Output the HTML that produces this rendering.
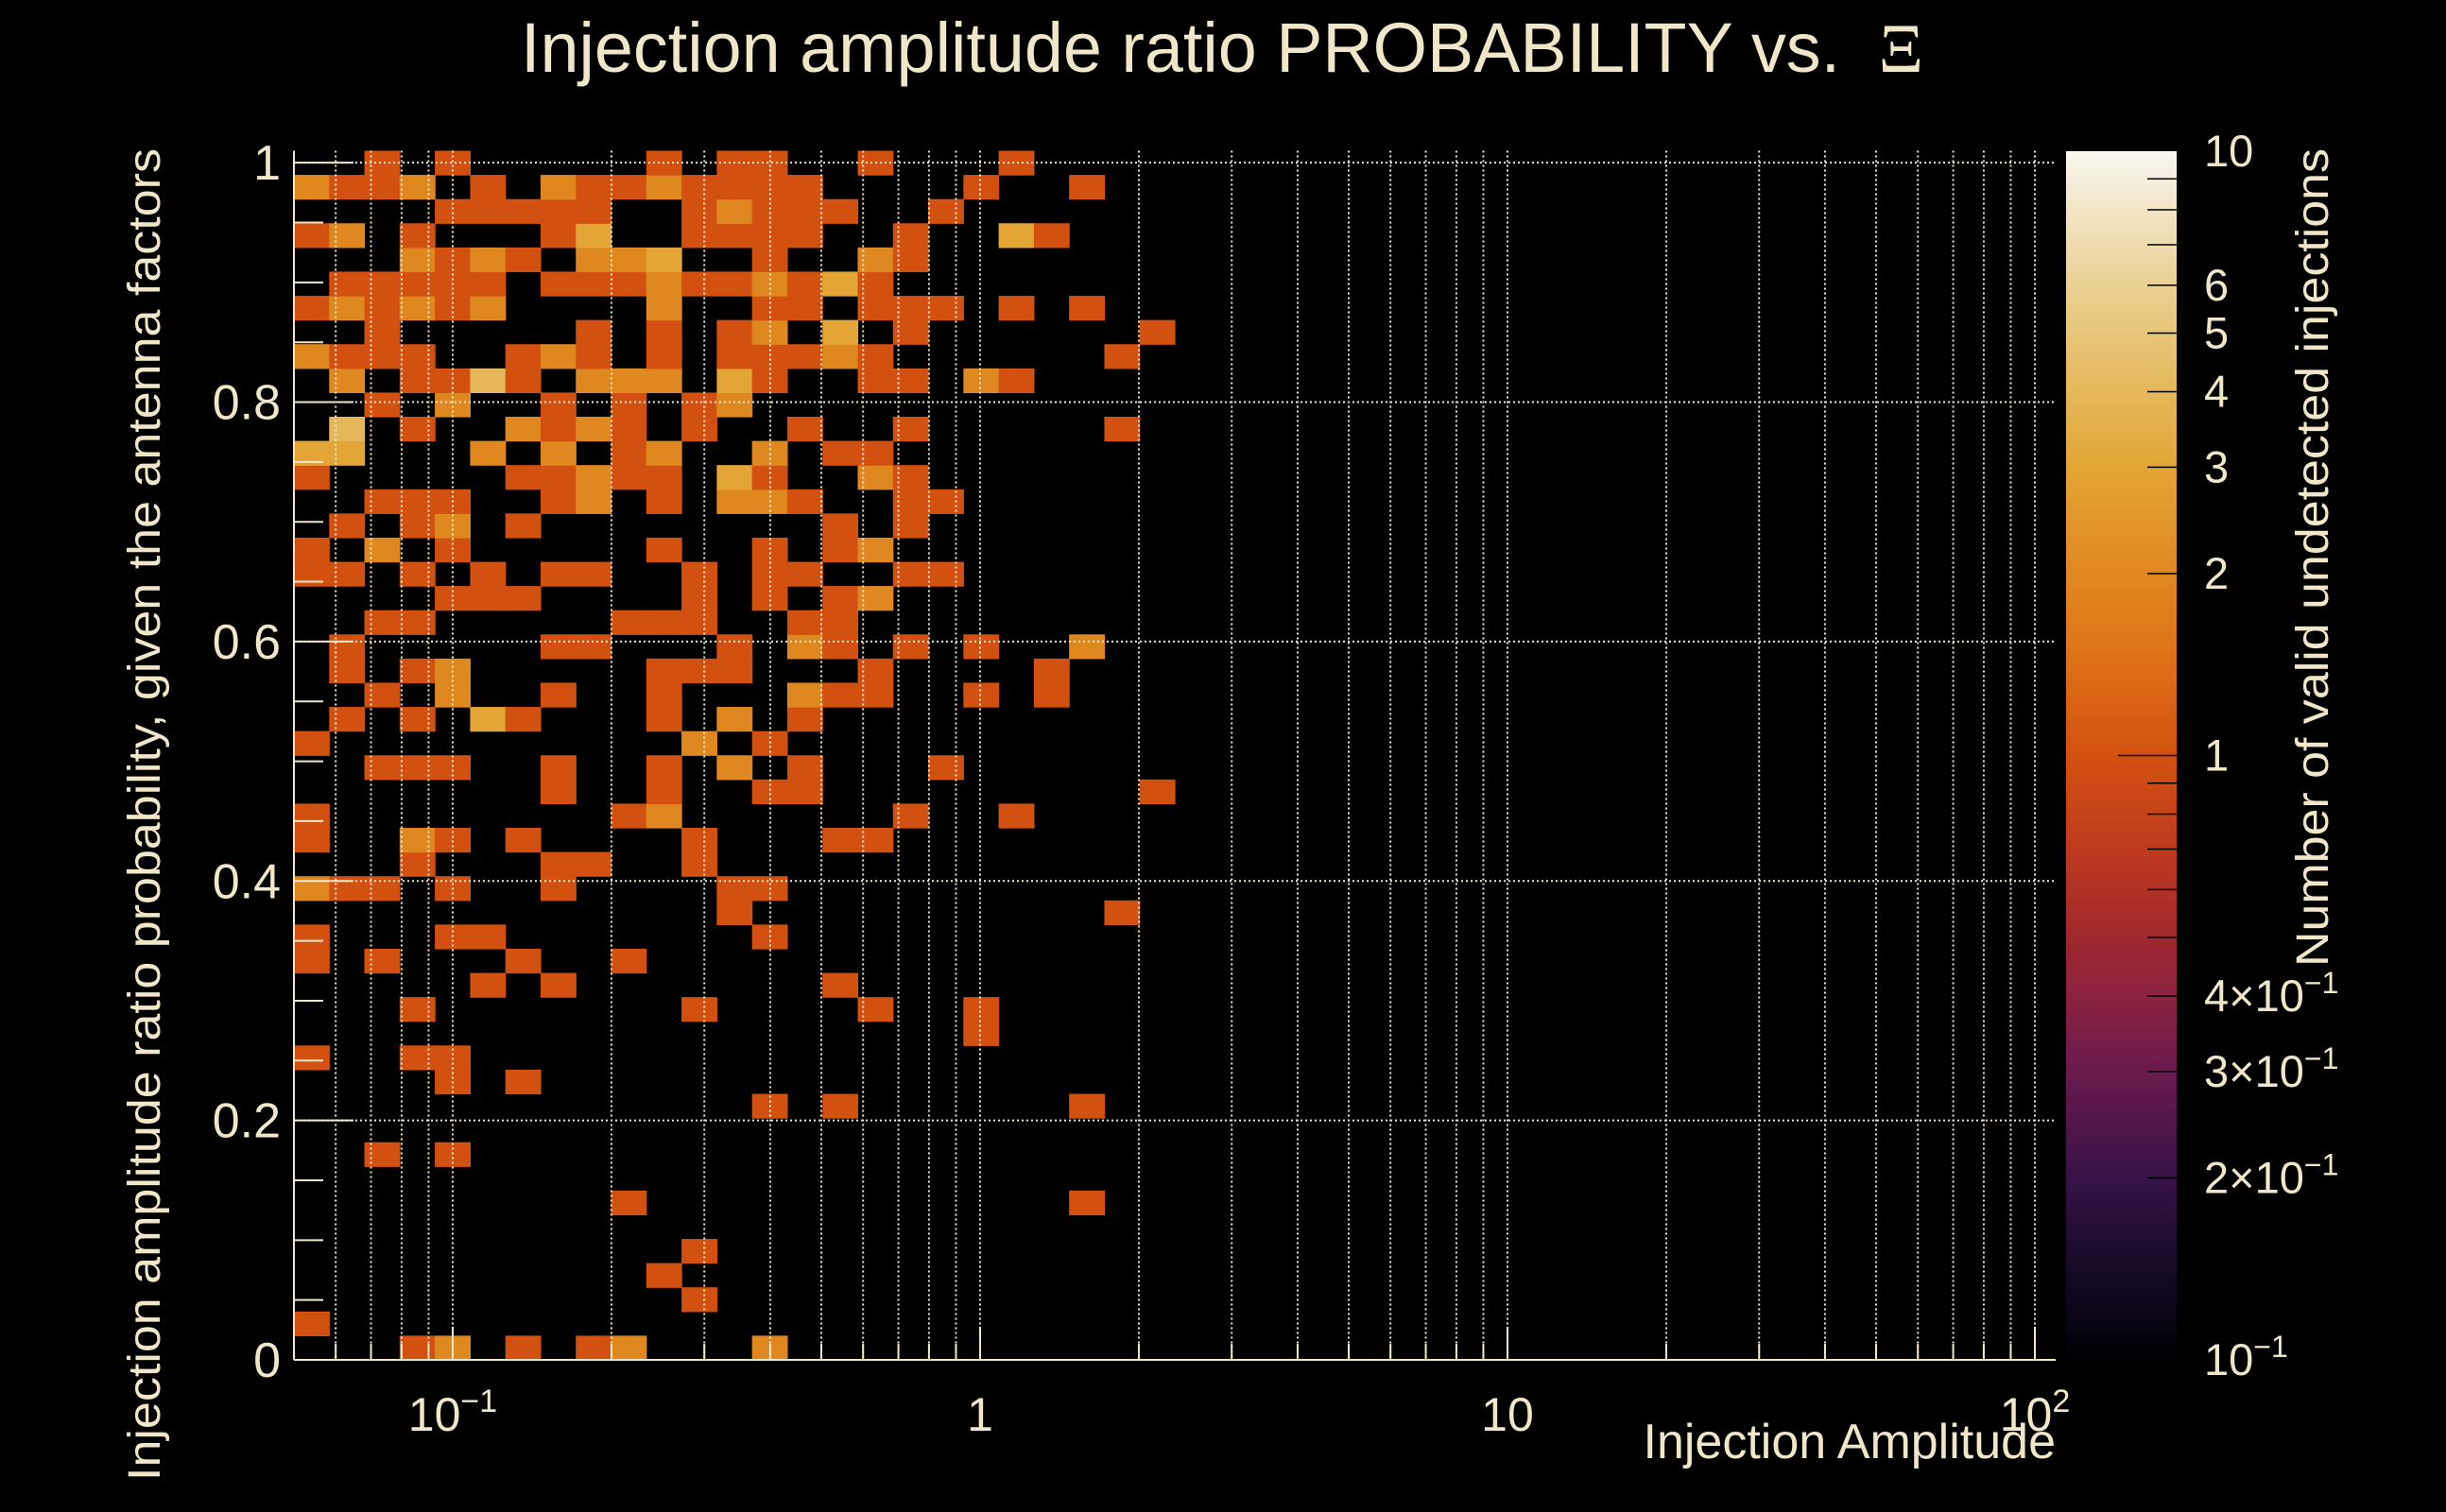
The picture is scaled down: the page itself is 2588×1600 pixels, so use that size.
<!DOCTYPE html>
<html><head><meta charset="utf-8"><style>
html,body{margin:0;padding:0;background:#000;}
svg{display:block;}
text{font-family:"Liberation Sans",sans-serif;fill:#f0e6c8;}
</style></head>
<body>
<svg id="chart" width="2588" height="1600" viewBox="0 0 2588 1600" xmlns="http://www.w3.org/2000/svg">
<defs>
<linearGradient id="zgrad" x1="0" y1="1" x2="0" y2="0">
<stop offset="0" stop-color="#000004"/><stop offset="0.088" stop-color="#1a0c2c"/><stop offset="0.15" stop-color="#381248"/><stop offset="0.239" stop-color="#6a1a4e"/><stop offset="0.301" stop-color="#8a2240"/><stop offset="0.349" stop-color="#a0282e"/><stop offset="0.423" stop-color="#bf3a1e"/><stop offset="0.5" stop-color="#d35110"/><stop offset="0.588" stop-color="#df7418"/><stop offset="0.65" stop-color="#e08820"/><stop offset="0.739" stop-color="#e3a535"/><stop offset="0.801" stop-color="#e4b85a"/><stop offset="0.889" stop-color="#ead092"/><stop offset="1" stop-color="#f8f6f0"/>
</linearGradient>
</defs>
<rect x="0" y="0" width="2588" height="1600" fill="#000"/>
<g id="cells"></g>
<g id="grid"></g>
<g id="axes"></g>
<rect x="2186" y="160" width="117" height="1279" fill="url(#zgrad)"/>
<g id="zaxis"></g>
<text x="551" y="76" font-size="74" textLength="1484" lengthAdjust="spacingAndGlyphs">Injection amplitude ratio PROBABILITY vs. <tspan font-family="Liberation Serif,serif" dx="20">Ξ</tspan></text>
<text x="2175" y="1543" font-size="52" text-anchor="end">Injection Amplitude</text>
<text transform="translate(169,862) rotate(-90)" font-size="48" text-anchor="middle" textLength="1410" lengthAdjust="spacingAndGlyphs">Injection amplitude ratio probability, given the antenna factors</text>
<text transform="translate(2463,157) rotate(-90)" font-size="48" text-anchor="end" textLength="866" lengthAdjust="spacingAndGlyphs">Number of valid undetected injections</text>
</svg>
<script>
const xMin = 0.05, xMax = 109.5, nX = 50;
const yMin = 0, yMax = 1.01, nY = 50;
const yTickValues = [0, 0.2, 0.4, 0.6, 0.8, 1];
const yTickLabels = ["0", "0.2", "0.4", "0.6", "0.8", "1"];
const xTickValues = [0.1, 1, 10, 100];
const xTickBase = ["10", "1", "10", "10"];
const xTickExp = ["−1", "", "", "2"];
const zTickValues = [10, 6, 5, 4, 3, 2, 1, 0.4, 0.3, 0.2, 0.1];
const zTickLabels = [["10",""],["6",""],["5",""],["4",""],["3",""],["2",""],["1",""],["4×10","−1"],["3×10","−1"],["2×10","−1"],["10","−1"]];
const counts = [
[0,0,0,1,2,0,1,0,1,2,0,0,0,2,0,0,0,0,0,0,0,0,0,0,0],
[1,0,0,0,0,0,0,0,0,0,0,0,0,0,0,0,0,0,0,0,0,0,0,0,0],
[0,0,0,0,0,0,0,0,0,0,0,1,0,0,0,0,0,0,0,0,0,0,0,0,0],
[0,0,0,0,0,0,0,0,0,0,1,0,0,0,0,0,0,0,0,0,0,0,0,0,0],
[0,0,0,0,0,0,0,0,0,0,0,1,0,0,0,0,0,0,0,0,0,0,0,0,0],
[0,0,0,0,0,0,0,0,0,0,0,0,0,0,0,0,0,0,0,0,0,0,0,0,0],
[0,0,0,0,0,0,0,0,0,1,0,0,0,0,0,0,0,0,0,0,0,0,1,0,0],
[0,0,0,0,0,0,0,0,0,0,0,0,0,0,0,0,0,0,0,0,0,0,0,0,0],
[0,0,1,0,1,0,0,0,0,0,0,0,0,0,0,0,0,0,0,0,0,0,0,0,0],
[0,0,0,0,0,0,0,0,0,0,0,0,0,0,0,0,0,0,0,0,0,0,0,0,0],
[0,0,0,0,0,0,0,0,0,0,0,0,0,1,0,1,0,0,0,0,0,0,1,0,0],
[0,0,0,0,1,0,1,0,0,0,0,0,0,0,0,0,0,0,0,0,0,0,0,0,0],
[1,0,0,1,1,0,0,0,0,0,0,0,0,0,0,0,0,0,0,0,0,0,0,0,0],
[0,0,0,0,0,0,0,0,0,0,0,0,0,0,0,0,0,0,0,1,0,0,0,0,0],
[0,0,0,1,0,0,0,0,0,0,0,1,0,0,0,0,1,0,0,1,0,0,0,0,0],
[0,0,0,0,0,1,0,1,0,0,0,0,0,0,0,1,0,0,0,0,0,0,0,0,0],
[1,0,1,0,0,0,1,0,0,1,0,0,0,0,0,0,0,0,0,0,0,0,0,0,0],
[1,0,0,0,1,1,0,0,0,0,0,0,0,1,0,0,0,0,0,0,0,0,0,0,0],
[0,0,0,0,0,0,0,0,0,0,0,0,1,0,0,0,0,0,0,0,0,0,0,1,0],
[2,1,1,0,1,0,0,1,0,0,0,0,1,1,0,0,0,0,0,0,0,0,0,0,0],
[0,0,0,1,0,0,0,1,1,0,0,1,0,0,0,0,0,0,0,0,0,0,0,0,0],
[1,0,0,2,1,0,1,0,0,0,0,1,0,0,0,1,1,0,0,0,0,0,0,0,0],
[1,0,0,0,0,0,0,0,0,1,2,0,0,0,0,0,0,1,0,0,1,0,0,0,0],
[0,0,0,0,0,0,0,1,0,0,1,0,0,1,1,0,0,0,0,0,0,0,0,0,1],
[0,0,1,1,1,0,0,1,0,0,1,0,2,0,1,0,0,0,1,0,0,0,0,0,0],
[1,0,0,0,0,0,0,0,0,0,0,2,0,1,0,0,0,0,0,0,0,0,0,0,0],
[0,1,0,1,0,3,1,0,0,0,1,0,2,0,1,0,0,0,0,0,0,0,0,0,0],
[0,0,1,0,2,0,0,1,0,0,1,0,0,0,2,1,1,0,0,1,0,1,0,0,0],
[0,1,0,1,2,0,0,0,0,0,1,1,1,0,0,0,1,0,0,0,0,1,0,0,0],
[0,1,0,0,0,0,0,1,1,0,0,0,1,0,2,1,0,1,0,1,0,0,2,0,0],
[0,0,1,1,0,0,0,0,0,1,1,1,0,0,1,1,0,0,0,0,0,0,0,0,0],
[0,0,0,0,1,1,1,0,0,0,0,1,0,1,0,1,2,0,0,0,0,0,0,0,0],
[1,1,0,1,0,1,0,1,1,0,0,1,0,1,1,0,0,1,1,0,0,0,0,0,0],
[1,0,2,0,1,0,0,0,0,0,1,0,0,1,0,1,2,0,0,0,0,0,0,0,0],
[0,1,0,1,2,0,1,0,0,0,0,0,0,0,0,1,0,1,0,0,0,0,0,0,0],
[0,0,1,1,1,0,0,1,2,0,1,0,2,2,1,0,0,1,1,0,0,0,0,0,0],
[1,0,0,0,0,0,1,1,2,1,1,0,3,1,0,0,2,1,0,0,0,0,0,0,0],
[3,3,0,0,0,2,0,2,0,1,2,0,0,2,0,1,1,0,0,0,0,0,0,0,0],
[0,4,0,1,0,0,2,1,2,1,0,1,0,0,1,0,0,1,0,0,0,0,0,1,0],
[0,0,1,0,2,0,0,1,0,1,0,1,2,0,0,0,0,0,0,0,0,0,0,0,0],
[0,2,0,1,1,4,1,0,2,2,2,0,3,1,0,0,1,1,0,2,1,0,0,0,0],
[2,1,1,1,0,0,1,2,1,0,1,0,1,1,1,2,1,0,0,0,0,0,0,1,0],
[0,0,1,0,0,0,0,0,1,0,1,0,1,2,0,3,0,1,0,0,0,0,0,0,1],
[1,2,1,2,1,2,0,0,0,0,2,0,0,1,1,0,1,1,1,0,1,0,1,0,0],
[0,1,1,1,1,1,0,1,1,1,2,1,1,2,1,3,1,0,0,0,0,0,0,0,0],
[0,0,0,2,1,2,1,0,2,2,3,0,0,1,0,0,2,1,0,0,0,0,0,0,0],
[1,2,0,1,0,0,0,1,3,0,0,1,1,1,1,0,0,1,0,0,3,1,0,0,0],
[0,0,0,0,1,1,1,1,1,0,0,1,2,1,1,1,0,0,1,0,0,0,0,0,0],
[2,1,1,2,0,1,0,2,1,1,2,1,1,1,1,0,0,0,0,1,0,0,1,0,0],
[0,0,1,0,1,0,0,0,0,0,1,0,1,1,0,0,1,0,0,0,1,0,0,0,0]
];

const NS = "http://www.w3.org/2000/svg";
const L = 311, R = 2175, T = 159.5, B = 1439;
const zT = 160, zB = 1439, zL = 2186, zR = 2303;
const lx0 = Math.log10(xMin), lx1 = Math.log10(xMax);
function xs(v){ return L + (Math.log10(v) - lx0) / (lx1 - lx0) * (R - L); }
function ys(v){ return B - (v - yMin) / (yMax - yMin) * (B - T); }
function zs(v){ return zB - (Math.log10(v) + 1) / 2 * (zB - zT); }
function xEdge(i){ return Math.pow(10, lx0 + i * (lx1 - lx0) / nX); }
function yEdge(j){ return yMin + j * (yMax - yMin) / nY; }
const pal = [[0,"#000004"],[0.088,"#1a0c2c"],[0.15,"#381248"],[0.239,"#6a1a4e"],[0.301,"#8a2240"],[0.349,"#a0282e"],[0.423,"#bf3a1e"],[0.5,"#d35110"],[0.588,"#df7418"],[0.65,"#e08820"],[0.739,"#e3a535"],[0.801,"#e4b85a"],[0.889,"#ead092"],[1,"#f8f6f0"]];
function hex(h){ return [1,3,5].map(k=>parseInt(h.substr(k,2),16)); }
function color(z){
  let t = (Math.log10(z) + 1) / 2; t = Math.max(0, Math.min(1, t));
  for (let k = 1; k < pal.length; k++) {
    if (t <= pal[k][0]) {
      const a = hex(pal[k-1][1]), b = hex(pal[k][1]);
      const f = (t - pal[k-1][0]) / (pal[k][0] - pal[k-1][0]);
      return "rgb(" + a.map((c,i)=>Math.round(c + (b[i]-c)*f)).join(",") + ")";
    }
  }
  return pal[pal.length-1][1];
}
function mk(tag, attrs, parent){
  const e = document.createElementNS(NS, tag);
  for (const k in attrs) e.setAttribute(k, attrs[k]);
  parent.appendChild(e); return e;
}

const gc = document.getElementById("cells");
counts.forEach((row, j) => {
  row.forEach((v, i) => {
    if (v <= 0) return;
    const x0 = xs(xEdge(i)), x1 = xs(xEdge(i+1));
    const y0 = ys(yEdge(j+1)), y1 = ys(yEdge(j));
    const r = mk("rect", {x: x0.toFixed(2), y: y0.toFixed(2), width: (x1-x0+0.6).toFixed(2), height: (y1-y0+0.6).toFixed(2), fill: color(v)}, gc);
    
    
  });
});

const gg = document.getElementById("grid");
const gridStyle = {stroke: "#f0e6c8", "stroke-width": 2, "stroke-dasharray": "2 3"};
for (let d = -2; d <= 2; d++) {
  for (let m = 1; m <= 9; m++) {
    const v = m * Math.pow(10, d);
    if (v < xMin || v > xMax) continue;
    const x = xs(v);
    const ln = mk("line", Object.assign({x1: x, x2: x, y1: T, y2: B}, gridStyle), gg);
    
    
  }
}
yTickValues.forEach(v => {
  const y = ys(v);
  const ln = mk("line", Object.assign({x1: L, x2: R, y1: y, y2: y}, gridStyle), gg);
  
  
});

const ga = document.getElementById("axes");
const axStyle = {stroke: "#f0e6c8", "stroke-width": 2};
const ay = mk("line", Object.assign({x1: L, x2: L, y1: T, y2: B}, axStyle), ga);


const ax = mk("line", Object.assign({x1: L, x2: R, y1: B, y2: B}, axStyle), ga);


for (let k = 0; k <= 20; k++) {
  const v = k * 0.05; const y = ys(v);
  const major = (k % 4 === 0);
  const t = mk("line", Object.assign({x1: L, x2: L + (major ? 63 : 31), y1: y, y2: y}, axStyle), ga);
  
  
}
yTickValues.forEach((v, k) => {
  const t = mk("text", {x: 297, y: ys(v) + 18, "font-size": 52, "text-anchor": "end"}, ga);
  t.textContent = yTickLabels[k];
  
  
});
for (let d = -2; d <= 2; d++) {
  for (let m = 1; m <= 9; m++) {
    const v = m * Math.pow(10, d);
    if (v < xMin || v > xMax) continue;
    const x = xs(v);
    const t = mk("line", Object.assign({x1: x, x2: x, y1: B, y2: B - (m === 1 ? 35 : 17)}, axStyle), ga);
    
    
  }
}
xTickValues.forEach((v, k) => {
  const t = mk("text", {x: xs(v), y: 1514, "font-size": 50, "text-anchor": "middle"}, ga);
  
  
  const b = mk("tspan", {}, t); b.textContent = xTickBase[k];
  if (xTickExp[k]) { const s = mk("tspan", {dy: -20, "font-size": 34}, t); s.textContent = xTickExp[k]; }
});

const gz = document.getElementById("zaxis");
[0.2,0.3,0.4,0.5,0.6,0.7,0.8,0.9,1,2,3,4,5,6,7,8,9].forEach(v => {
  const y = zs(v);
  const t = mk("line", {x1: v === 1 ? zL + 55 : zR - 31, x2: zR, y1: y, y2: y, stroke: "#000", "stroke-width": 1.5}, gz);
  
  
});
zTickValues.forEach((v, k) => {
  const t = mk("text", {x: 2332, y: zs(v) + 16, "font-size": 47}, gz);
  
  
  const b = mk("tspan", {}, t); b.textContent = zTickLabels[k][0];
  if (zTickLabels[k][1]) { const s = mk("tspan", {dy: -19, "font-size": 32}, t); s.textContent = zTickLabels[k][1]; }
});
</script>
</body></html>
